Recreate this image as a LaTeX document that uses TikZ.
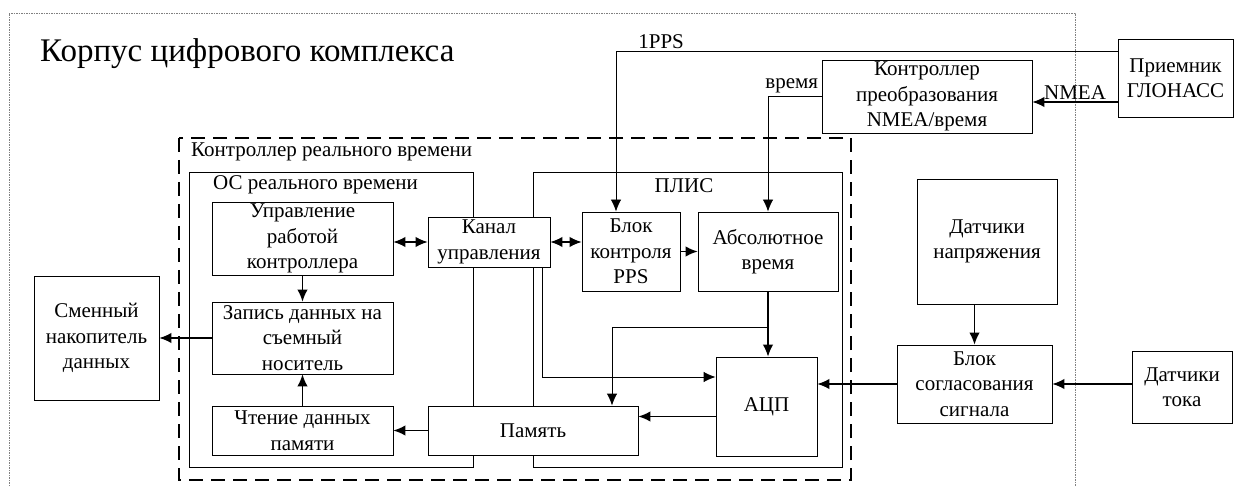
\documentclass[tikz,border=0pt]{standalone}
\usepackage{fontspec}
\setmainfont{Liberation Serif}
\usetikzlibrary{arrows.meta,calc,positioning}
\tikzset{%
	block/.style     = {draw, rectangle, fill=white, align=center, inner sep=0pt, line width=0.9pt}, % Block
	frame/.style     = {draw, line width=0.9pt}, % Unit
	rtframe/.style   = {draw, line width=1.1pt, dash pattern=on 14pt off 8pt}, % Controller
	caseframe/.style = {draw=black!50, line width=0.8pt, dash pattern=on 1.5pt off 1pt}, % Case
	caption/.style   = {inner sep=0pt}, % Text
	arrow/.style     = {line width=1.3pt, -{Latex[length=12pt,width=10.5pt]}},
	darrow/.style    = {line width=1.3pt, {Latex[length=12pt,width=10.5pt]}-{Latex[length=12pt,width=10.5pt]}},
}

\begin{document}
\begin{tikzpicture}[x=1pt,y=-1pt,font=\fontsize{21}{25.5}\selectfont]
	\useasboundingbox (0,0) rectangle (1234,486);
	% frames
	\draw[caseframe] (9,486) -- (9,13) -- (1075,13) -- (1075,486);
	\draw[rtframe] (179,138) rectangle (851,480);
	\draw[frame] (189,172) rectangle (473,467);
	\draw[frame] (533,172) rectangle (842,467);
	
	\node [caption,anchor=base west,font=\fontsize{33}{40}\selectfont] (title) at (40,62) {Корпус цифрового комплекса};
	\node [caption,anchor=base west] (rtlabel) at (191,157) {Контроллер реального времени};
	\node [caption,anchor=base west] (oslabel) at (213,190) {ОС реального времени};
	\node [caption,anchor=base] (plislabel) at (684,193) {ПЛИС};
	
	% blocks
	\node [block,minimum width=125pt,minimum height=124pt] (smen) at (96.5,338) {Сменный\\накопитель\\данных};
	\node [block,minimum width=181pt,minimum height=73pt] (upr) at (302.5,238.5) {Управление\\работой\\контроллера};
	\node [block,minimum width=181pt,minimum height=72pt] (zap) at (302.5,338) {Запись данных на\\съемный\\носитель};
	\node [block,minimum width=181pt,minimum height=49pt] (cht) at (302.5,430.5) {Чтение данных\\памяти};
	\node [block,minimum width=122pt,minimum height=50pt] (kanal) at (489,242) {Канал\\управления};
	\node [block,minimum width=210pt,minimum height=49pt] (pam) at (533,430.5) {Память};
	\node [block,minimum width=98pt,minimum height=79pt] (pps) at (631,251.5) {Блок\\контроля\\PPS};
	\node [block,minimum width=140pt,minimum height=79pt] (abs) at (768,251.5) {Абсолютное\\время};
	\node [block,minimum width=101pt,minimum height=99pt] (adc) at (766.5,406.5) {АЦП};
	\node [block,minimum width=210pt,minimum height=73pt] (nmea) at (927,96.5) {Контроллер\\преобразования\\NMEA/время};
	\node [block,minimum width=115pt,minimum height=78pt] (glonass) at (1175.5,78) {Приемник\\ГЛОНАСС};
	\node [block,minimum width=140pt,minimum height=125pt] (dvolt) at (987,241.5) {Датчики\\напряжения};
	\node [block,minimum width=155pt,minimum height=78pt] (sogl) at (974.5,384) {Блок\\согласования\\сигнала};
	\node [block,minimum width=100pt,minimum height=72pt] (dcur) at (1182,387) {Датчики\\тока};
	
	\coordinate (jn) at ($(abs.south)+(0,36)$);
	
	% connectors
	\draw[darrow] (upr.east |- kanal.west) -- (kanal.west);
	\draw[darrow] (kanal.east) -- (kanal.east -| pps.west);
	\draw[arrow] (pps.east) -- (pps.east -| abs.west);
	\draw[arrow] (upr.south) -- (zap.north);
	\draw[arrow] (cht.north) -- (zap.south);
	\draw[arrow] (zap.west) -- (smen.east);
	\draw[arrow] (pam.west) -- (cht.east);
	\draw[arrow] ([yshift=-10pt]adc.west) -- ([yshift=-10pt]adc.west -| pam.east);
	\draw[arrow,line width=0.9pt] ([xshift=-8pt]kanal.south east) |- ([yshift=29.5pt]adc.west);
	\draw[arrow] (abs.south) -- (abs.south |- adc.north);
	\draw[arrow,line width=0.9pt] (jn) -| ([xshift=79pt]pam.north);
	\draw[arrow,line width=0.9pt] ([yshift=-13pt]glonass.north west) -| node[above,pos=0.455,inner sep=2pt] {1PPS} ([xshift=-15pt]pps.north);
	\draw[arrow,line width=0.9pt] (nmea.west) -| node[above left,pos=0,inner sep=3pt] {время} (abs.north);
	\draw[arrow] ([yshift=-24pt]glonass.west) -- node[above,inner sep=2pt] {NMEA} ([yshift=-24pt]glonass.west -| nmea.east);
	\draw[arrow] (dvolt.south -| sogl.north) -- (sogl.north);
	\draw[arrow] (dcur.west |- sogl.east) -- (sogl.east);
	\draw[arrow] (sogl.west) -- (sogl.west -| adc.east);
\end{tikzpicture}
\end{document}
